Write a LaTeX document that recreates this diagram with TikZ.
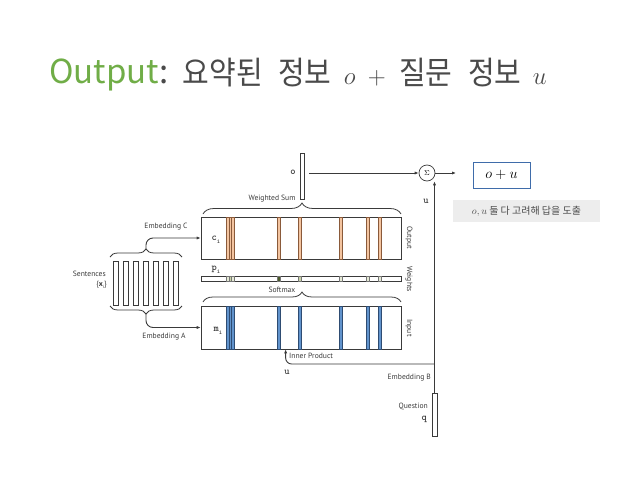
\documentclass[tikz,border=0pt]{standalone}
\usepackage{fontspec}
\newfontfamily\kr{Noto Sans CJK KR}
\newfontfamily\lbl{PT Sans}
\usetikzlibrary{decorations.pathreplacing,arrows.meta,calc}
\definecolor{titlegreen}{HTML}{70AD47}
\definecolor{titlegray}{HTML}{4A4A4A}
\definecolor{ink}{HTML}{3A3A3A}
\definecolor{orfill}{HTML}{F3C4A0}
\definecolor{ordraw}{HTML}{8A5A3A}
\definecolor{blfill}{HTML}{6193CC}
\definecolor{bldraw}{HTML}{2E4C72}
\definecolor{boxblue}{HTML}{3F6CAA}
\definecolor{notegray}{HTML}{EDEDED}
\definecolor{wlight}{HTML}{E6EBD6}
\definecolor{wmid}{HTML}{C9D4A6}
\definecolor{wdark}{HTML}{4B5A2B}
\begin{document}
\begin{tikzpicture}[x=1pt,y=-1pt,
  ttl/.style={anchor=base west, inner sep=0pt, font=\kr\fontsize{29}{33}\selectfont, text=titlegray},
  ttm/.style={anchor=base west, inner sep=0pt, font=\fontsize{32}{34}\selectfont, text=titlegray},
  lab/.style={font=\lbl\fontsize{7.6}{9}\selectfont, text=ink, inner sep=0pt},
  sym/.style={font=\ttfamily\bfseries\fontsize{10}{11}\selectfont, text=ink, inner sep=0pt},
  block/.style={draw=ink, line width=0.7pt, fill=white, inner sep=0pt},
  vec/.style={draw=ink, line width=0.6pt, fill=white, inner sep=0pt},
  arr/.style={draw=ink, line width=0.9pt, -{Latex[length=4pt,width=3.2pt]}},
  brc/.style={draw=ink, line width=0.8pt, decorate, decoration={brace, amplitude=#1}},
  brc/.default=8,
]
\useasboundingbox (0,0) rectangle (638,479);

% title
\node[ttl, font=\kr\fontsize{33}{36}\selectfont] (t1) at (49,83) {\textcolor{titlegreen}{Output}:};
\node[ttl] (t2) at ($(t1.base east)+(14,1)$) {\scalebox{1}[1.1]{요약된}};
\node[ttl] (t3) at ($(t2.base east)+(15,0)$) {\scalebox{1}[1.1]{정보}};
\node[ttm] (t4) at ($(t3.base east)+(12,0)$) {$o$};
\node[ttm, font=\fontsize{25}{28}\selectfont] (t5) at ($(t4.base east)+(12,0)$) {$+$};
\node[ttl] (t6) at ($(t5.base east)+(13,0)$) {\scalebox{1}[1.1]{질문}};
\node[ttl] (t7) at ($(t6.base east)+(15,0)$) {\scalebox{1}[1.1]{정보}};
\node[ttm] (t8) at ($(t7.base east)+(11,0)$) {$u$};

% memory blocks
\node[block, minimum width=200, minimum height=42] (cblock) at (301,238) {};
\node[block, minimum width=200, minimum height=5] (pbar) at (301,278.5) {};
\node[block, minimum width=200, minimum height=43] (mblock) at (301,327.5) {};

% stripes
\foreach \x/\w in {226/2.7, 228.7/2.7, 231.4/2.7, 277/3.6, 298/3.6, 339/3.6, 366/3.6, 378/3.6}{
  \path[fill=orfill, draw=ordraw, line width=0.4pt] (\x,217) rectangle ++(\w,42);
  \path[fill=blfill, draw=bldraw, line width=0.4pt] (\x,306) rectangle ++(\w,43);
}
\foreach \x/\w/\c in {226/2.7/wlight, 228.7/2.7/wmid, 231.4/2.7/wlight, 277/3.6/wdark, 298/3.6/wmid, 339/3.6/wlight, 366/3.6/wlight, 378/3.6/wlight}{
  \path[fill=\c, draw=ink!70, line width=0.4pt] (\x,276) rectangle ++(\w,5);
}

\node[sym] (clab) at (216,240) {c\raisebox{-2.5pt}{\fontsize{6.5}{7}\selectfont i}};
\node[sym] (plab) at (216,270) {p\raisebox{-2.5pt}{\fontsize{6.5}{7}\selectfont i}};
\node[sym] (mlab) at (218,331) {m\raisebox{-2.5pt}{\fontsize{6.5}{7}\selectfont i}};

\node[lab, rotate=-90] (outlab) at (409,238) {Output};
\node[lab, rotate=-90] (wlab) at (409,279) {Weights};
\node[lab, rotate=-90] (inlab) at (409,328) {Input};

% braces above blocks
\draw[brc=11] (203,214) -- (401,214);
\node[lab] (wsum) at (272,199) {Weighted Sum};
\draw[brc=10] (203,302) -- (401,302);
\node[lab] (smax) at (282,290) {Softmax};

% o vector
\node[vec, minimum width=4, minimum height=46] (ovec) at (302,176) {};
\node[sym] (olab) at (293,172) {o};
\coordinate (ostart) at (309,173);

% sigma
\node[circle, draw=ink, line width=0.7pt, minimum size=16, inner sep=0pt, font=\fontsize{7.5}{8}\selectfont] (sigma) at (427,173) {$\Sigma$};
\draw[arr] (ostart) -- (sigma.west);
\coordinate (sigout) at (456,173);
\draw[arr] (sigma.east) -- (sigout);

% o+u box and note
\node[draw=boxblue, line width=1pt, minimum width=57, minimum height=26, inner sep=0pt, font=\fontsize{15}{17}\selectfont] (oubox) at (501.5,175) {$o+u$};
\node[fill=notegray, minimum width=147, minimum height=22, inner sep=0pt, font=\kr\fontsize{10}{12}\selectfont, text=titlegray] (note) at (526.5,211) {$o,u$ 둘 다 고려해 답을 도출};

% question
\node[vec, minimum width=5, minimum height=43] (qvec) at (434.5,414.5) {};
\node[lab, anchor=east] (qtext) at (428,406) {Question};
\node[sym, anchor=east] (qlab) at (427,419) {q};
\node[lab, anchor=east] (embB) at (431,378) {Embedding B};
\coordinate (ujoin) at (434.5,364);
\draw[arr] (qvec.north) -- (qvec.north |- sigma.south);
\draw[arr, rounded corners=6] (ujoin) -| ($(mblock.south west)+(85,0)$);
\node[lab, anchor=west] (ip) at (289,356) {Inner Product};
\node[sym] (ulab1) at (287,372) {u};
\node[sym] (ulab2) at (426,201) {u};

% sentences
\foreach \i in {0,...,6}{
  \node[vec, minimum width=4.7, minimum height=44, anchor=north west] (s\i) at (113.3+10*\i,261) {};
}
\node[lab, anchor=east] (sent) at (106,274) {Sentences};
\node[lab, anchor=east] (xi) at (107,285) {\{\textbf{x}\raisebox{-1.5pt}{\fontsize{4.5}{5}\selectfont i}\}};
\draw[brc=8] (110,257) -- (182,257);
\draw[brc=8] (182,306) -- (110,306);
\coordinate (btop) at (146,249);
\coordinate (bbot) at (146,314);
\draw[arr, rounded corners=7] (btop) |- (cblock.west);
\draw[arr, rounded corners=7] (bbot) |- (mblock.west);
\node[lab] (embC) at (166,227) {Embedding C};
\node[lab] (embA) at (164,337) {Embedding A};
\end{tikzpicture}
\end{document}
